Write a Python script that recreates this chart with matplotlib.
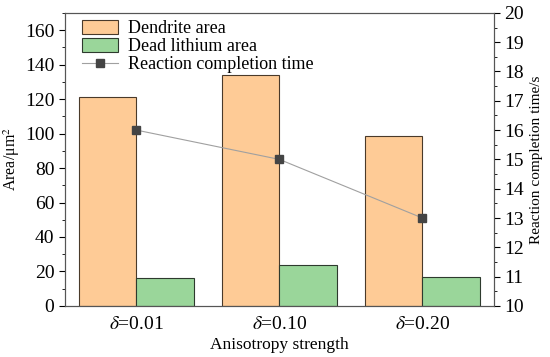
import matplotlib
matplotlib.use("Agg")
import matplotlib.pyplot as plt
import numpy as np
from matplotlib.ticker import MultipleLocator

plt.rcParams["font.family"] = ["Liberation Serif", "DejaVu Serif"]
plt.rcParams["mathtext.fontset"] = "stix"

categories = ["$\\delta$=0.01", "$\\delta$=0.10", "$\\delta$=0.20"]
dendrite_area = [121, 134, 98.5]
dead_lithium_area = [16, 23.5, 17]
completion_time = [16, 15, 13]

fig = plt.figure(figsize=(5.5, 3.57), dpi=100)
ax1 = fig.add_axes([0.118, 0.143, 0.78, 0.821])

x = np.arange(len(categories))
w = 0.4
b1 = ax1.bar(x - w / 2, dendrite_area, width=w, color="#fecb96",
             edgecolor="#4a3a2a", linewidth=0.8, label="Dendrite area")
b2 = ax1.bar(x + w / 2, dead_lithium_area, width=w, color="#9ad69a",
             edgecolor="#2e3a2e", linewidth=0.8, label="Dead lithium area")
ax1.set_xlim(-0.5, 2.5)
ax1.set_ylim(0, 170)
ax1.set_yticks(np.arange(0, 161, 20))
ax1.yaxis.set_minor_locator(MultipleLocator(10))
ax1.set_xticks(x, categories)
ax1.tick_params(axis="x", length=0, labelsize=14, pad=7)
ax1.tick_params(axis="y", which="major", direction="out", length=4, labelsize=14)
ax1.tick_params(axis="y", which="minor", direction="out", length=2)
ax1.set_ylabel("Area/μm$^2$", fontsize=11.5, labelpad=2)
ax1.set_xlabel("Anisotropy strength", fontsize=12.5, labelpad=3)

ax2 = ax1.twinx()
l, = ax2.plot(x, completion_time, color="#a0a0a0", linewidth=0.8,
              marker="s", markersize=6, markerfacecolor="#444444",
              markeredgecolor="#444444", label="Reaction completion time")
ax2.set_ylim(10, 20)
ax2.yaxis.set_major_locator(MultipleLocator(1))
ax2.yaxis.set_minor_locator(MultipleLocator(0.5))
ax2.tick_params(axis="y", which="major", direction="out", length=4, labelsize=14)
ax2.tick_params(axis="y", which="minor", direction="out", length=2)
ax2.set_ylabel("Reaction completion time/s", fontsize=11, labelpad=4)

for ax in (ax1, ax2):
    for s in ax.spines.values():
        s.set_color("#555555")
        s.set_linewidth(0.8)

ax1.legend([b1, b2, l], ["Dendrite area", "Dead lithium area", "Reaction completion time"],
           loc="upper left", frameon=False, fontsize=13, handlelength=2.0,
           handleheight=0.8, handletextpad=0.55, labelspacing=0.05,
           borderpad=0, borderaxespad=0, bbox_to_anchor=(0.04, 0.976))

fig.savefig("out.png", dpi=100)
